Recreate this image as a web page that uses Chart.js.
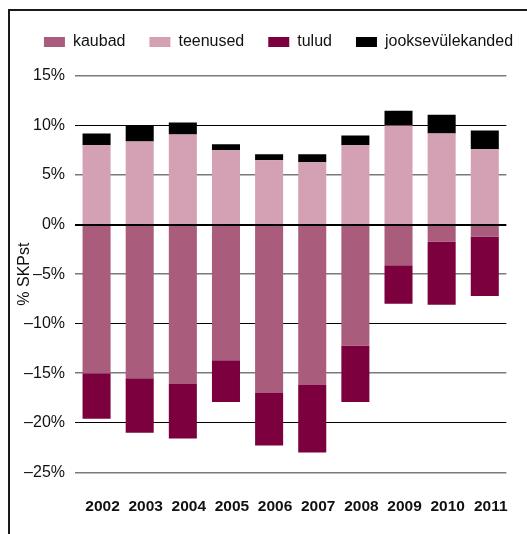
<!DOCTYPE html>
<html>
<head>
<meta charset="utf-8">
<script src="https://cdn.jsdelivr.net/npm/chart.js@4"></script>
<style>
  html, body { margin: 0; padding: 0; background: #fff; }
  #wrap { position: relative; width: 527px; height: 534px; overflow: hidden; }
  #c { position: absolute; left: 0; top: 0; }
  #frame { position: absolute; left: 8px; top: 9px; width: 517px; height: 530px;
           border-top: 2px solid #1a1a1a; border-left: 2px solid #1a1a1a; pointer-events: none; }
</style>
</head>
<body>
<div id="wrap">
  <canvas id="c" width="527" height="534"></canvas>
  <div id="frame"></div>
</div>
<script>
const categories = ['2002','2003','2004','2005','2006','2007','2008','2009','2010','2011'];
const kaubad   = [-15.0, -15.5, -16.1, -13.7, -17.0, -16.2, -12.2, -4.1, -1.7, -1.2];
const teenused = [8.0, 8.4, 9.1, 7.5, 6.5, 6.3, 8.0, 10.0, 9.2, 7.6];
const tulud    = [-4.6, -5.5, -5.5, -4.2, -5.3, -6.8, -5.7, -3.9, -6.4, -6.0];
const jooksevulekanded = [1.2, 1.6, 1.2, 0.6, 0.6, 0.8, 1.0, 1.5, 1.9, 1.9];
const seriesNames = ['kaubad', 'teenused', 'tulud', 'jooksevülekanded'];
const yTicks = [-25, -20, -15, -10, -5, 0, 5, 10, 15];

const FONT = "'Liberation Sans', Arial, Helvetica, sans-serif";
const blackLines = [10, 0, -10, -20];

const zeroLine = {
  id: 'zeroLine',
  afterDatasetsDraw(chart) {
    const y = chart.scales.y.getPixelForValue(0);
    const a = chart.chartArea;
    const ctx = chart.ctx;
    ctx.save();
    ctx.strokeStyle = '#000';
    ctx.lineWidth = 1;
    ctx.beginPath();
    ctx.moveTo(a.left, Math.round(y) + 0.5);
    ctx.lineTo(a.right, Math.round(y) + 0.5);
    ctx.stroke();
    ctx.restore();
  }
};

const legendFix = {
  id: 'legendFix',
  beforeLayout(chart) {
    const lg = chart.legend;
    if (lg && !lg._patched) {
      const f = lg.fit;
      lg.fit = function () { f.call(this); this.height = 66; };
      lg._patched = true;
    }
  },
  afterLayout(chart) {
    const lg = chart.legend;
    if (lg) { lg.left += 19; lg.right += 19; }
  }
};

new Chart(document.getElementById('c'), {
  type: 'bar',
  data: {
    labels: categories,
    datasets: [
      { label: seriesNames[0], data: kaubad, backgroundColor: '#A95C7B' },
      { label: seriesNames[1], data: teenused, backgroundColor: '#D4A1B4' },
      { label: seriesNames[2], data: tulud, backgroundColor: '#7D003E' },
      { label: seriesNames[3], data: jooksevulekanded, backgroundColor: '#000000' }
    ]
  },
  options: {
    responsive: false,
    animation: false,
    devicePixelRatio: 1,
    layout: { padding: { top: 10, right: 8, bottom: 0, left: 0 } },
    datasets: { bar: { barPercentage: 0.65, categoryPercentage: 1.0, borderWidth: 0 } },
    plugins: {
      legend: {
        position: 'top',
        labels: {
          boxWidth: 21, boxHeight: 10, padding: 24,
          color: '#111', font: { family: FONT, size: 16 }
        }
      },
      tooltip: { enabled: false }
    },
    scales: {
      x: {
        stacked: true,
        grid: { display: false, drawTicks: false },
        border: { display: false },
        ticks: { color: '#111', padding: 25, labelOffset: 6, font: { family: FONT, size: 15.5, weight: 'bold' } },
        afterFit(s) { s.height = 61.7; }
      },
      y: {
        stacked: true,
        min: -25, max: 15,
        afterBuildTicks(s) { s.ticks = yTicks.map(v => ({ value: v })); },
        grid: {
          drawTicks: false,
          color: ctx => blackLines.includes(ctx.tick && ctx.tick.value) ? '#000' : '#7a7a7a',
          lineWidth: ctx => blackLines.includes(ctx.tick && ctx.tick.value) ? 1 : 1.5
        },
        border: { display: false },
        ticks: {
          color: '#111', padding: 10,
          font: { family: FONT, size: 16 },
          callback: v => (v < 0 ? '\u2013' + Math.abs(v) : v) + '%'
        },
        title: { display: true, text: '% SKPst', color: '#111', padding: { top: 15, bottom: 0 }, font: { family: FONT, size: 16 } },
        afterFit(s) { s.width = 75; }
      }
    }
  },
  plugins: [zeroLine, legendFix]
});
</script>
</body>
</html>
